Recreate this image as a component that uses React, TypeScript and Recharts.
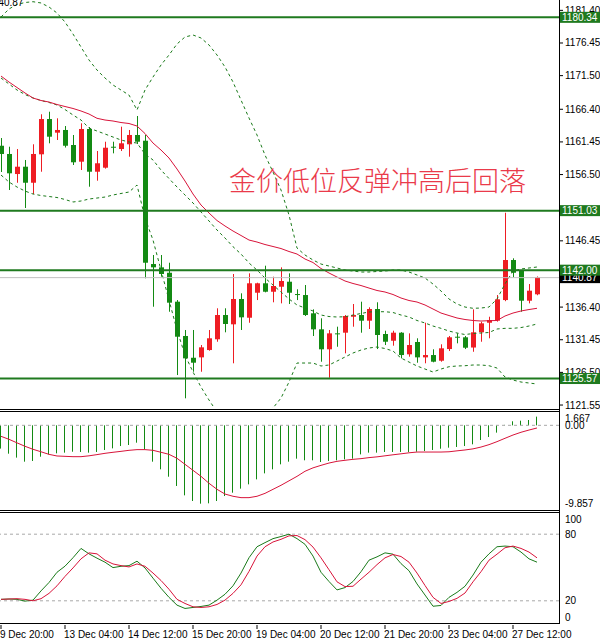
import React from 'react';
import { ComposedChart, Bar, Line, XAxis, YAxis, ReferenceLine } from 'recharts';

// 4H candles, 9 Dec 20:00 .. 28 Dec 00:00
const TIMES = [
  '9 Dec 20:00', '12 Dec 00:00', '12 Dec 04:00', '12 Dec 08:00', '12 Dec 12:00', '12 Dec 16:00', '12 Dec 20:00', '13 Dec 00:00',
  '13 Dec 04:00', '13 Dec 08:00', '13 Dec 12:00', '13 Dec 16:00', '13 Dec 20:00', '14 Dec 00:00', '14 Dec 04:00', '14 Dec 08:00',
  '14 Dec 12:00', '14 Dec 16:00', '14 Dec 20:00', '15 Dec 00:00', '15 Dec 04:00', '15 Dec 08:00', '15 Dec 12:00', '15 Dec 16:00',
  '15 Dec 20:00', '16 Dec 00:00', '16 Dec 04:00', '16 Dec 08:00', '16 Dec 12:00', '16 Dec 16:00', '16 Dec 20:00', '19 Dec 00:00',
  '19 Dec 04:00', '19 Dec 08:00', '19 Dec 12:00', '19 Dec 16:00', '19 Dec 20:00', '20 Dec 00:00', '20 Dec 04:00', '20 Dec 08:00',
  '20 Dec 12:00', '20 Dec 16:00', '20 Dec 20:00', '21 Dec 00:00', '21 Dec 04:00', '21 Dec 08:00', '21 Dec 12:00', '21 Dec 16:00',
  '21 Dec 20:00', '22 Dec 00:00', '22 Dec 04:00', '22 Dec 08:00', '22 Dec 12:00', '22 Dec 16:00', '22 Dec 20:00', '23 Dec 00:00',
  '23 Dec 04:00', '23 Dec 08:00', '23 Dec 12:00', '23 Dec 16:00', '23 Dec 20:00', '27 Dec 00:00', '27 Dec 04:00', '27 Dec 08:00',
  '27 Dec 12:00', '27 Dec 16:00', '27 Dec 20:00', '28 Dec 00:00',
];

const OPEN = [
  1160.87, 1159.62, 1156.58, 1157.69, 1155.26, 1159.57, 1164.92, 1162.85, 1163.26, 1160.98,
  1158.45, 1163.41, 1156.93, 1157.54, 1160.72, 1160.37, 1161.09, 1162.50, 1161.63, 1142.93,
  1142.43, 1141.61, 1137.22, 1132.02, 1128.72, 1128.78, 1129.89, 1131.52, 1135.20, 1133.79,
  1137.63, 1134.79, 1138.58, 1140.01, 1138.73, 1139.49, 1140.25, 1138.38, 1138.23, 1135.46,
  1133.03, 1130.00, 1132.42, 1132.52, 1134.94, 1135.20, 1134.34, 1136.11, 1132.32, 1131.30,
  1132.52, 1129.24, 1131.11, 1128.78, 1129.13, 1128.27, 1130.04, 1131.91, 1131.82, 1130.27,
  1132.58, 1134.03, 1134.34, 1137.47, 1143.54, 1141.92, 1137.37, 1138.34,
];
const HIGH = [
  1162.04, 1160.72, 1160.37, 1158.71, 1161.09, 1165.64, 1166.03, 1165.03, 1163.86, 1162.50,
  1164.27, 1163.71, 1160.07, 1161.48, 1161.48, 1163.76, 1163.26, 1165.38, 1162.50, 1144.30,
  1144.30, 1143.13, 1137.47, 1132.93, 1132.93, 1130.65, 1132.93, 1136.22, 1136.22, 1141.42,
  1138.49, 1141.52, 1140.10, 1142.68, 1141.01, 1142.43, 1141.52, 1139.10, 1139.75, 1136.06,
  1134.70, 1132.93, 1133.43, 1135.20, 1136.87, 1137.22, 1136.37, 1137.13, 1132.82, 1132.82,
  1132.60, 1132.42, 1131.67, 1134.03, 1130.00, 1130.76, 1132.02, 1132.42, 1132.02, 1136.06,
  1134.18, 1134.94, 1138.23, 1150.71, 1143.80, 1142.00, 1139.90, 1141.05,
];
const LOW = [
  1156.89, 1154.16, 1155.26, 1151.43, 1153.55, 1156.93, 1161.24, 1161.74, 1160.60, 1157.95,
  1157.19, 1154.66, 1155.57, 1157.40, 1159.72, 1160.07, 1159.21, 1161.13, 1140.77, 1136.46,
  1141.01, 1135.70, 1126.10, 1122.57, 1126.60, 1126.60, 1129.79, 1131.15, 1132.58, 1127.88,
  1132.93, 1134.03, 1137.47, 1138.64, 1137.13, 1136.97, 1136.87, 1137.47, 1135.05, 1132.02,
  1128.12, 1125.69, 1130.39, 1129.39, 1133.43, 1132.52, 1133.08, 1130.04, 1130.65, 1130.55,
  1128.63, 1128.88, 1127.97, 1127.88, 1128.03, 1128.12, 1129.74, 1130.91, 1130.04, 1129.63,
  1131.15, 1131.67, 1134.20, 1137.30, 1140.92, 1135.70, 1136.97, 1138.20,
];
const CLOSE = [
  1159.62, 1156.69, 1157.69, 1155.26, 1159.62, 1164.92, 1162.24, 1163.26, 1160.87, 1158.36,
  1163.41, 1156.93, 1158.21, 1160.57, 1160.57, 1161.24, 1162.50, 1161.48, 1143.13, 1142.43,
  1141.42, 1137.07, 1131.91, 1128.63, 1127.97, 1130.30, 1131.67, 1135.20, 1133.84, 1137.63,
  1134.85, 1140.01, 1140.01, 1138.73, 1139.60, 1140.36, 1138.58, 1138.23, 1135.20, 1133.03,
  1130.00, 1132.42, 1132.27, 1135.05, 1135.20, 1134.34, 1136.11, 1132.17, 1131.15, 1132.52,
  1129.13, 1130.65, 1128.78, 1129.13, 1128.12, 1130.15, 1131.82, 1131.76, 1130.24, 1132.58,
  1133.94, 1134.44, 1137.58, 1143.54, 1141.61, 1137.37, 1138.89, 1140.87,
];

// red moving average
const MA = [
  1171.44, 1170.53, 1169.70, 1168.87, 1168.11, 1167.73, 1167.50, 1167.12, 1166.82, 1166.52,
  1166.14, 1165.68, 1165.03, 1164.77, 1164.62, 1164.39, 1164.24, 1163.86, 1162.72, 1161.28,
  1160.22, 1159.01, 1157.34, 1155.52, 1153.55, 1151.88, 1150.67, 1149.53, 1148.70, 1147.94,
  1147.26, 1146.57, 1146.27, 1145.89, 1145.59, 1145.28, 1144.83, 1144.45, 1143.69, 1143.16,
  1142.25, 1141.57, 1140.96, 1140.36, 1139.98, 1139.67, 1139.29, 1138.92, 1138.69, 1138.31,
  1137.78, 1137.40, 1137.17, 1136.72, 1136.11, 1135.50, 1135.12, 1134.75, 1134.52, 1134.37,
  1134.29, 1134.34, 1134.37, 1135.05, 1135.50, 1135.81, 1136.03, 1136.22,
];

// bollinger bands
const BB_UPPER = [
  1180.39, 1181.61, 1182.29, 1182.59, 1182.71, 1182.52, 1181.91, 1181.00, 1179.63, 1177.81,
  1175.84, 1173.87, 1172.35, 1171.14, 1170.08, 1169.32, 1168.56, 1166.29, 1169.32, 1171.29,
  1173.11, 1174.63, 1176.30, 1177.36, 1177.66, 1177.21, 1176.15, 1174.63, 1172.81, 1170.53,
  1167.80, 1165.08, 1162.50, 1159.46, 1156.89, 1154.16, 1150.37, 1145.36, 1144.30, 1143.54,
  1142.93, 1142.63, 1142.33, 1142.02, 1141.87, 1141.72, 1141.72, 1141.80, 1141.87, 1142.02,
  1142.02, 1141.72, 1141.27, 1140.81, 1139.90, 1138.84, 1137.63, 1136.87, 1136.41, 1136.22,
  1136.26, 1136.41, 1137.63, 1139.90, 1141.87, 1142.18, 1142.33, 1142.48,
];
const BB_MIDDLE = [
  1171.14, 1170.23, 1169.32, 1168.64, 1168.11, 1167.73, 1167.43, 1167.05, 1166.36, 1165.53,
  1164.77, 1163.56, 1163.10, 1162.65, 1162.19, 1161.74, 1161.44, 1161.28, 1159.62, 1158.71,
  1157.19, 1155.90, 1154.61, 1153.40, 1152.19, 1150.82, 1149.46, 1148.09, 1146.88, 1145.56,
  1144.45, 1143.09, 1142.02, 1140.81, 1139.75, 1138.69, 1137.63, 1136.72, 1136.26, 1135.81,
  1135.20, 1134.97, 1134.90, 1134.94, 1135.20, 1135.43, 1135.66, 1135.70, 1135.70, 1135.58,
  1135.20, 1134.90, 1134.37, 1133.99, 1133.53, 1133.18, 1132.77, 1132.47, 1132.24, 1132.39,
  1132.47, 1132.55, 1133.08, 1133.18, 1133.18, 1133.30, 1133.53, 1133.84,
];
const BB_LOWER = [
  1156.43, 1155.37, 1154.61, 1154.00, 1153.55, 1153.32, 1153.17, 1153.02, 1152.72, 1152.34,
  1152.49, 1152.79, 1152.94, 1153.09, 1153.40, 1153.63, 1153.85, 1154.91, 1149.91, 1146.57,
  1142.02, 1137.47, 1132.93, 1129.13, 1126.56, 1124.28, 1122.31, 1120.49, 1119.28, 1118.52,
  1118.52, 1118.97, 1119.58, 1120.04, 1121.10, 1122.61, 1125.04, 1127.92, 1127.92, 1127.92,
  1127.47, 1127.62, 1128.22, 1128.83, 1129.44, 1129.89, 1130.20, 1130.35, 1130.12, 1129.74,
  1128.68, 1128.07, 1127.47, 1127.01, 1126.56, 1127.01, 1127.36, 1127.47, 1127.51, 1127.62,
  1127.62, 1127.51, 1127.16, 1125.80, 1125.34, 1125.04, 1124.89, 1124.74,
];

// MACD
const MACD_HIST = [
  -2.71, -3.30, -3.76, -4.23, -4.15, -3.65, -3.38, -3.26, -3.18, -3.07,
  -3.10, -3.18, -3.10, -2.87, -2.68, -2.41, -2.29, -2.02, -2.79, -4.23,
  -5.12, -5.98, -7.06, -8.15, -8.81, -9.12, -9.08, -8.81, -8.23, -7.84,
  -7.37, -6.87, -6.29, -5.59, -5.12, -4.54, -4.23, -3.88, -4.07, -4.07,
  -4.27, -4.15, -4.07, -3.96, -3.88, -3.38, -3.18, -3.18, -3.10, -3.10,
  -3.10, -3.10, -3.07, -2.99, -2.87, -2.72, -2.60, -2.52, -2.41, -2.21,
  -1.71, -1.36, -0.85, 0.05, 0.47, 0.54, 0.62, 1.01,
];
const MACD_SIGNAL = [
  -1.28, -1.63, -2.04, -2.44, -2.79, -3.08, -3.38, -3.57, -3.61, -3.65,
  -3.65, -3.55, -3.41, -3.26, -3.14, -3.03, -2.91, -2.83, -2.83, -2.91,
  -3.14, -3.38, -3.84, -4.54, -5.24, -5.94, -6.75, -7.45, -8.00, -8.26,
  -8.42, -8.42, -8.26, -7.92, -7.45, -6.98, -6.46, -5.94, -5.35, -4.95,
  -4.66, -4.39, -4.19, -4.07, -3.96, -3.88, -3.76, -3.67, -3.55, -3.43,
  -3.32, -3.20, -3.11, -3.11, -3.11, -3.11, -3.08, -2.97, -2.87, -2.74,
  -2.53, -2.25, -1.90, -1.51, -1.13, -0.81, -0.55, -0.31,
];

// stochastic
const STOCH_K = [
  21.3, 21.6, 21.3, 19.7, 20.6, 28.9, 36.5, 45.7, 51.2, 58.8,
  67.2, 62.3, 58.4, 54.8, 49.9, 51.1, 51.7, 55.7, 49.6, 40.4,
  31.3, 23.1, 16.1, 13.1, 14.0, 14.9, 16.1, 20.6, 25.9, 33.5,
  45.0, 58.8, 68.7, 72.4, 76.0, 77.9, 80.0, 76.0, 70.9, 60.3,
  45.7, 37.4, 29.8, 31.9, 37.4, 46.2, 56.6, 59.6, 63.2, 62.0,
  53.5, 47.1, 35.2, 25.2, 15.1, 15.8, 23.1, 27.6, 33.1, 43.2,
  54.8, 62.3, 68.7, 69.3, 68.7, 63.9, 57.8, 54.8,
];
const STOCH_D = [
  21.3, 21.6, 21.9, 21.3, 20.0, 21.9, 26.7, 33.5, 42.0, 49.6,
  57.8, 63.2, 62.3, 56.6, 53.2, 51.7, 50.5, 53.2, 51.1, 45.0,
  38.3, 30.4, 21.3, 17.6, 14.6, 14.0, 14.6, 16.7, 20.6, 26.7,
  34.4, 46.5, 60.3, 68.7, 73.0, 75.4, 78.5, 78.8, 75.1, 68.4,
  58.7, 48.0, 37.1, 32.8, 33.1, 39.5, 45.7, 52.6, 58.7, 61.7,
  59.9, 54.8, 45.0, 33.8, 23.1, 17.6, 19.4, 22.2, 27.0, 37.1,
  46.2, 56.6, 62.0, 67.8, 69.3, 67.2, 63.9, 58.7,
];

const LEVELS = [1180.34, 1151.03, 1142.0, 1125.57];
const LAST_PRICE = 1140.87;
const PRICE_TICKS = [1181.4, 1176.45, 1171.5, 1166.4, 1161.45, 1156.5, 1146.45, 1136.4, 1131.45, 1126.5, 1121.55];
const MACD_TICKS = [1.667, 0, -9.857];
const STOCH_TICKS = [100, 80, 20, 0];
const STOCH_LEVELS = [80, 20];
const TITLE = '金价低位反弹冲高后回落';

const CANDLE_UP = '#ee1d23';
const CANDLE_DOWN = '#138a13';
const LEVEL_GREEN = '#1f7a1f';
const BAND_GREEN = '#1a7a1a';
const LINE_RED = '#d8143a';
const FONT = "'Liberation Sans', Arial, sans-serif";
const X_DOMAIN = [-0.125, 69.75];

const data = TIMES.map((t, i) => ({
  i,
  t,
  open: OPEN[i],
  high: HIGH[i],
  low: LOW[i],
  close: CLOSE[i],
  range: [LOW[i], HIGH[i]],
  ma: MA[i],
  upper: BB_UPPER[i],
  middle: BB_MIDDLE[i],
  lower: BB_LOWER[i],
  hist: MACD_HIST[i],
  signal: MACD_SIGNAL[i],
  k: STOCH_K[i],
  d: STOCH_D[i],
}));

const timeTicks = TIMES.map((_, i) => i).filter((i) => i % 8 === 0);
// boxes last, so they cover the plain labels under them
const priceAxisTicks = [...PRICE_TICKS, LAST_PRICE, ...LEVELS];

const Candle = (props: any) => {
  const { x, y, width, height, payload } = props;
  if (!payload || height == null) return null;
  const top = Math.min(y, y + height);
  const h = Math.abs(height);
  const k = h / (payload.high - payload.low);
  const cx = Math.round(x + width / 2);
  const yo = top + (payload.high - payload.open) * k;
  const yc = top + (payload.high - payload.close) * k;
  const color = payload.close >= payload.open ? CANDLE_UP : CANDLE_DOWN;
  return (
    <g>
      <rect x={cx} y={top} width={1} height={h} fill={color} />
      <rect x={cx - 2} y={Math.min(yo, yc)} width={5} height={Math.max(Math.abs(yc - yo), 1)} fill={color} />
    </g>
  );
};

const HistBar = (props: any) => {
  const { x, y, width, height } = props;
  if (height == null) return null;
  return <rect x={Math.floor(x + width / 2)} y={Math.min(y, y + height)} width={1} height={Math.abs(height)} fill={CANDLE_DOWN} />;
};

const PriceTick = (props: any) => {
  const { x, y, payload } = props;
  const v = Number(payload.value);
  const isLevel = LEVELS.includes(v);
  const isLast = v === LAST_PRICE;
  if (isLevel || isLast) {
    return (
      <g>
        <rect x={x - 5} y={y - 5.5} width={40} height={11} fill={isLevel ? LEVEL_GREEN : '#000'} />
        <text x={x - 3} y={y} dy="0.35em" fontSize={10} fontFamily={FONT} fill="#fff">
          {v.toFixed(2)}
        </text>
      </g>
    );
  }
  return (
    <text x={x} y={y} dy="0.35em" fontSize={10} fontFamily={FONT} fill="#000">
      {v.toFixed(2)}
    </text>
  );
};

const MacdTick = (props: any) => {
  const { x, y, payload } = props;
  const v = payload.value;
  const off = v > 0 ? 7 : v < 0 ? -7 : 0;
  return (
    <text x={x} y={y + off} dy="0.35em" fontSize={10} fontFamily={FONT} fill="#000">
      {v === 0 ? '0.00' : String(v)}
    </text>
  );
};

const StochTick = (props: any) => {
  const { x, y, payload } = props;
  const v = payload.value;
  const off = v === 100 ? 7 : v === 0 ? -6 : 0;
  return (
    <text x={x} y={y + off} dy="0.35em" fontSize={10} fontFamily={FONT} fill="#000">
      {v}
    </text>
  );
};

const TimeTick = (props: any) => {
  const { x, y, payload } = props;
  return (
    <g>
      <line x1={x} x2={x} y1={y} y2={y + 4} stroke="#000" />
      <text x={x - 1} y={y + 13} fontSize={10} fontFamily={FONT} fill="#000">
        {TIMES[payload.value]}
      </text>
    </g>
  );
};

const hLine = (top: number) => (
  <div style={{ position: 'absolute', left: 0, top, width: 560, height: 1, background: '#000' }} />
);

export default function App() {
  return (
    <div style={{ position: 'absolute', left: 0, top: 0, width: 600, height: 640, background: '#fff', overflow: 'hidden' }}>
      {/* price panel */}
      <div style={{ position: 'absolute', left: 0, top: 0 }}>
        <ComposedChart width={600} height={414} data={data} margin={{ top: 0, right: 0, bottom: 6, left: 0 }}>
          <XAxis dataKey="i" type="number" domain={X_DOMAIN} hide allowDataOverflow />
          <YAxis
            orientation="right"
            width={41}
            domain={[1121.1, 1182.97]}
            allowDataOverflow
            ticks={priceAxisTicks}
            interval={0}
            axisLine={false}
            tickLine={{ stroke: '#000' }}
            tickSize={4}
            tick={<PriceTick />}
          />
          <Bar dataKey="range" barSize={5} shape={<Candle />} isAnimationActive={false} />
          <Line type="linear" dataKey="upper" stroke={BAND_GREEN} strokeDasharray="3 3" strokeWidth={1} dot={false} isAnimationActive={false} />
          <Line type="linear" dataKey="middle" stroke={BAND_GREEN} strokeDasharray="3 3" strokeWidth={1} dot={false} isAnimationActive={false} />
          <Line type="linear" dataKey="lower" stroke={BAND_GREEN} strokeDasharray="3 3" strokeWidth={1} dot={false} isAnimationActive={false} />
          <Line type="linear" dataKey="ma" stroke={LINE_RED} strokeWidth={1} dot={false} isAnimationActive={false} />
          <ReferenceLine y={LAST_PRICE} stroke="#c0c0c0" strokeWidth={1} />
          {LEVELS.map((v) => (
            <ReferenceLine key={v} y={v} stroke={LEVEL_GREEN} strokeWidth={2} />
          ))}
        </ComposedChart>
      </div>

      {/* MACD panel */}
      <div style={{ position: 'absolute', left: 0, top: 411 }}>
        <ComposedChart width={600} height={99} data={data} margin={{ top: 0, right: 0, bottom: 0, left: 0 }}>
          <XAxis dataKey="i" type="number" domain={X_DOMAIN} hide allowDataOverflow />
          <YAxis
            orientation="right"
            width={41}
            domain={[-9.857, 1.667]}
            allowDataOverflow
            ticks={MACD_TICKS}
            interval={0}
            axisLine={false}
            tickLine={false}
            tickSize={4}
            tick={<MacdTick />}
          />
          <ReferenceLine y={0} stroke="#a8a8a8" strokeDasharray="3 3" />
          <Bar dataKey="hist" barSize={1} shape={<HistBar />} isAnimationActive={false} />
          <Line type="linear" dataKey="signal" stroke={LINE_RED} strokeWidth={1} dot={false} isAnimationActive={false} />
        </ComposedChart>
      </div>

      {/* stochastic panel */}
      <div style={{ position: 'absolute', left: 0, top: 512 }}>
        <ComposedChart width={600} height={128} data={data} margin={{ top: 0, right: 0, bottom: 0, left: 0 }}>
          <XAxis
            dataKey="i"
            type="number"
            domain={X_DOMAIN}
            allowDataOverflow
            ticks={timeTicks}
            interval={0}
            height={17}
            axisLine={false}
            tickLine={false}
            tickSize={0}
            tick={<TimeTick />}
          />
          <YAxis
            orientation="right"
            width={41}
            domain={[0, 100]}
            ticks={STOCH_TICKS}
            interval={0}
            axisLine={false}
            tickLine={false}
            tickSize={4}
            tick={<StochTick />}
          />
          {STOCH_LEVELS.map((v) => (
            <ReferenceLine key={v} y={v} stroke="#a8a8a8" strokeDasharray="3 3" />
          ))}
          <Line type="linear" dataKey="k" stroke={BAND_GREEN} strokeWidth={1} dot={false} isAnimationActive={false} />
          <Line type="linear" dataKey="d" stroke={LINE_RED} strokeWidth={1} dot={false} isAnimationActive={false} />
        </ComposedChart>
      </div>

      {/* panel borders */}
      {hLine(409)}
      {hLine(411)}
      {hLine(510)}
      {hLine(512)}
      {hLine(623)}
      <div style={{ position: 'absolute', left: 559, top: 0, width: 1, height: 624, background: '#000' }} />

      <div style={{ position: 'absolute', left: -12, top: -3, fontFamily: FONT, fontSize: 10, color: '#000' }}>1140.87</div>
      <div
        style={{
          position: 'absolute',
          left: 229,
          top: 166,
          fontFamily: "'Noto Sans CJK SC', sans-serif",
          fontWeight: 300,
          fontSize: 27,
          lineHeight: '27px',
          color: '#ea3a4a',
          whiteSpace: 'nowrap',
        }}
      >
        {TITLE}
      </div>
    </div>
  );
}
